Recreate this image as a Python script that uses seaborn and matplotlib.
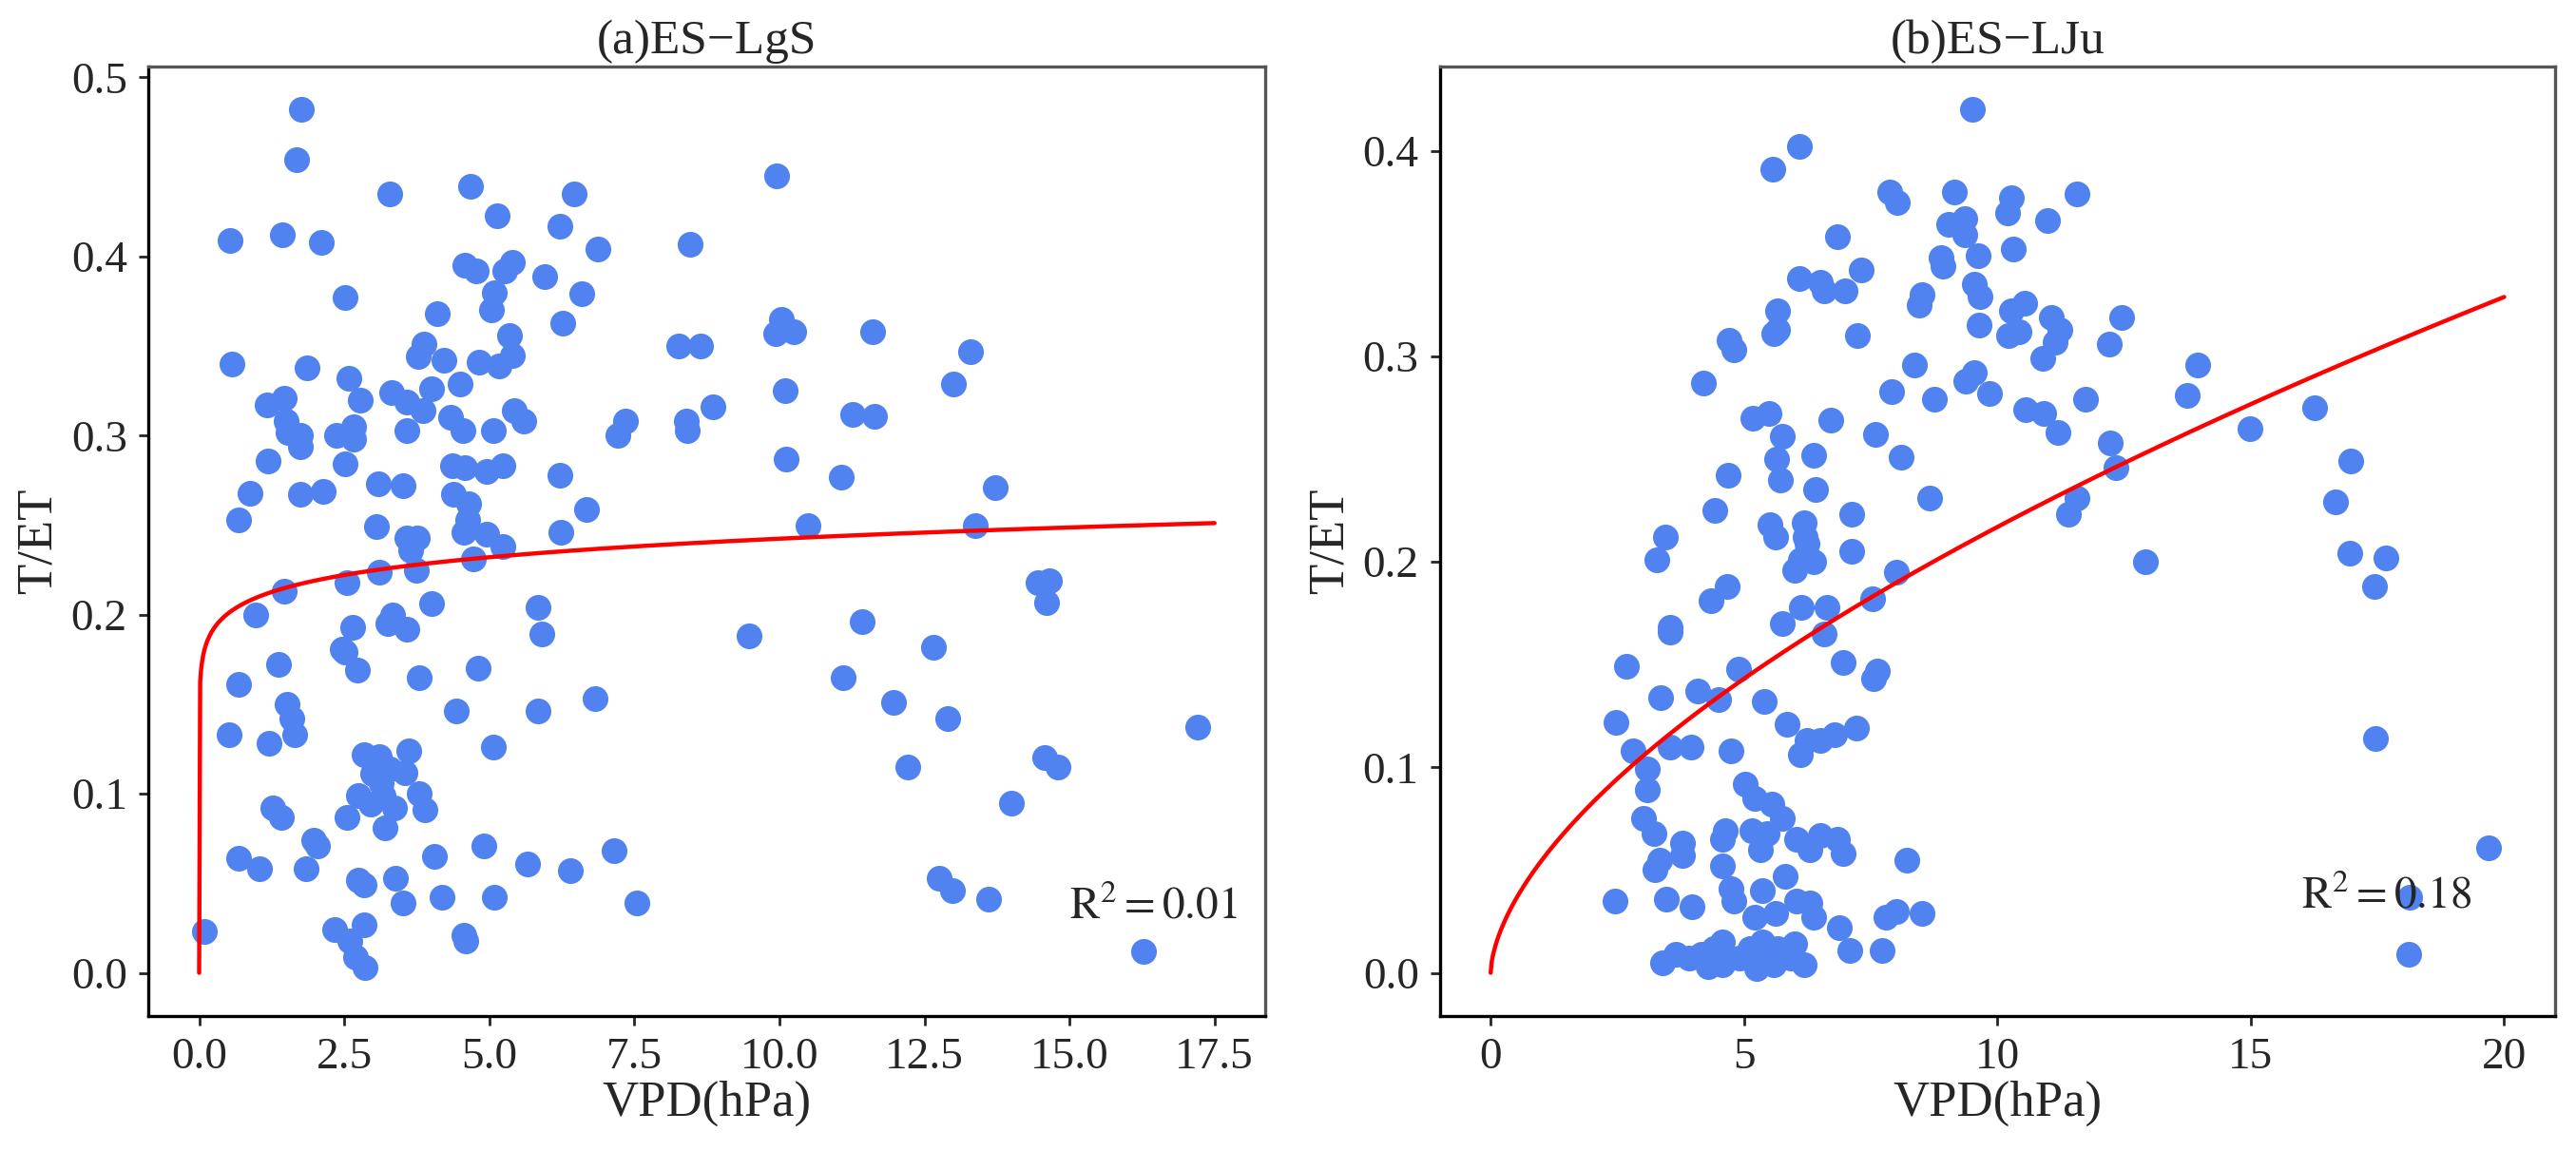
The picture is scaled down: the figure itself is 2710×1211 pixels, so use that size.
import numpy as np
import pandas as pd
import matplotlib
matplotlib.use('Agg')
import matplotlib.pyplot as plt
import seaborn as sns

# Panel (a) ES-LgS: VPD vs T/ET
vpd_lgs = [1.76, 1.68, 3.28, 4.68, 5.14, 6.47, 6.22, 0.54, 1.44, 2.11, 6.88, 4.58, 4.78, 5.27, 5.40, 5.96,
           2.52, 5.08, 5.04, 6.59, 4.11, 6.27, 3.88, 3.78, 4.22, 5.35, 4.82, 5.17, 5.40, 0.57, 1.86, 2.58,
           4.50, 1.46, 1.17, 2.78, 3.32, 3.58, 3.85, 4.00, 1.50, 1.53, 1.75, 1.74, 2.36, 2.67, 2.66, 3.58,
           4.34, 4.55, 5.07, 5.43, 5.60, 7.34, 7.21, 1.18, 2.52, 4.36, 4.58, 4.95, 5.23, 6.22, 0.87, 1.75,
           2.14, 3.09, 3.52, 4.39, 4.64, 6.68, 0.68, 3.06, 3.58, 3.76, 4.56, 4.96, 5.24, 6.24, 4.73, 3.64,
           4.62,
           9.96, 8.46, 10.03, 9.93, 10.24, 11.61, 8.26, 8.64, 13.29, 13.00, 10.10, 8.40, 8.42, 8.86, 11.26,
           11.64, 10.12, 11.07, 13.72, 10.49, 13.38,
           3.74, 3.11, 2.55, 1.46, 0.97, 4.00, 5.84, 5.91, 3.34, 3.25, 3.58, 2.64, 2.47, 2.52, 2.73, 1.36,
           3.79, 4.80, 0.68, 6.83, 4.43, 5.84, 1.51, 1.60, 1.64, 0.51, 1.21, 5.07, 2.85, 3.10, 3.61, 3.54,
           3.28, 2.99, 3.14, 3.79, 3.89, 2.74, 2.95, 3.17, 3.36, 3.21, 1.27, 1.42, 2.55, 1.97, 2.04, 4.05,
           4.90, 7.15, 0.68, 1.04, 1.84, 5.66, 6.39, 2.74, 2.85, 3.39, 3.52, 4.18, 5.09, 7.54, 0.09, 2.33,
           2.59, 2.85, 2.70, 2.86, 4.56, 4.60,
           14.45, 14.66, 14.61, 11.42, 9.48, 12.66, 11.10, 11.96, 12.90, 17.21, 12.22, 14.57, 14.80, 14.00,
           12.76, 12.98, 13.60, 16.27]
tet_lgs = [0.482, 0.454, 0.435, 0.439, 0.423, 0.435, 0.417, 0.409, 0.412, 0.408, 0.404, 0.395, 0.392, 0.392,
           0.397, 0.389, 0.377, 0.380, 0.370, 0.379, 0.368, 0.363, 0.351, 0.344, 0.342, 0.356, 0.341, 0.339,
           0.345, 0.340, 0.338, 0.332, 0.329, 0.321, 0.317, 0.320, 0.324, 0.319, 0.314, 0.326, 0.308, 0.302,
           0.300, 0.294, 0.300, 0.305, 0.298, 0.303, 0.310, 0.303, 0.303, 0.314, 0.308, 0.308, 0.300, 0.286,
           0.284, 0.283, 0.282, 0.280, 0.283, 0.278, 0.268, 0.267, 0.269, 0.273, 0.272, 0.267, 0.262, 0.259,
           0.253, 0.249, 0.243, 0.243, 0.246, 0.245, 0.238, 0.246, 0.231, 0.236,
           0.253,
           0.445, 0.407, 0.365, 0.357, 0.358, 0.358, 0.350, 0.350, 0.347, 0.329, 0.325, 0.308, 0.303, 0.316,
           0.312, 0.311, 0.287, 0.277, 0.271, 0.250, 0.250,
           0.225, 0.224, 0.218, 0.213, 0.200, 0.206, 0.204, 0.189, 0.200, 0.195, 0.192, 0.193, 0.181, 0.179,
           0.169, 0.172, 0.165, 0.170, 0.161, 0.153, 0.146, 0.146, 0.150, 0.142, 0.133, 0.133, 0.128, 0.126,
           0.122, 0.121, 0.124, 0.112, 0.114, 0.111, 0.106, 0.100, 0.091, 0.099, 0.094, 0.099, 0.092, 0.081,
           0.092, 0.087, 0.087, 0.074, 0.071, 0.065, 0.071, 0.068, 0.064, 0.058, 0.058, 0.061, 0.057, 0.052,
           0.049, 0.053, 0.039, 0.042, 0.042, 0.039, 0.023, 0.024, 0.018, 0.027, 0.009, 0.003, 0.021, 0.018,
           0.218, 0.219, 0.207, 0.196, 0.188, 0.182, 0.165, 0.151, 0.142, 0.137, 0.115, 0.120, 0.115, 0.095,
           0.053, 0.046, 0.041, 0.012]

# Panel (b) ES-LJu
vpd_lju = [6.09, 5.57, 7.88, 8.03, 6.84, 8.88, 8.92, 6.10, 6.50, 6.58, 7.00, 7.31, 5.67, 5.67, 5.58, 8.51,
           8.46, 7.24, 4.70, 4.79, 8.36, 4.20, 7.92, 8.76, 5.17, 5.50, 6.71, 5.75, 7.59, 5.65, 6.38, 8.09,
           4.69, 5.71, 6.42, 8.67, 4.43, 7.13, 5.52, 5.62, 6.19, 6.21, 3.44, 3.28, 7.13,
           6.25, 6.00, 6.11, 6.38, 8.00, 4.66, 4.35, 7.53, 6.13, 6.64, 5.75, 3.55, 3.55, 6.58, 2.68, 6.96,
           4.90, 7.63, 7.55, 4.09, 3.35, 4.50, 5.40, 2.47, 5.85, 7.21, 6.79, 6.50, 6.25, 6.11, 2.81, 3.55,
           3.95, 4.75, 3.09, 3.09, 5.02, 5.21, 5.54, 5.75, 3.02, 3.23, 4.62, 4.58, 5.16, 5.46, 6.04, 6.50,
           6.84, 6.96, 6.29, 5.33, 3.79, 3.79, 8.21, 3.33, 3.24, 4.58, 5.82, 4.75, 4.79, 5.36, 2.45, 3.47,
           3.98, 5.21, 5.62, 6.04, 6.29, 6.38, 6.88, 7.80, 8.00, 8.51, 7.09, 7.73, 3.39, 3.66, 3.91, 4.16,
           4.29, 4.41, 4.58, 4.62, 4.58, 4.91, 5.12, 5.25, 5.37, 5.46, 5.58, 5.67, 6.00, 5.92, 6.19,
           9.51, 9.15, 10.28, 11.57, 10.20, 9.35, 9.04, 9.35, 10.99, 9.62, 10.31, 9.55, 9.66, 10.28, 10.54,
           11.06, 11.23, 12.46, 9.64, 10.21, 10.42, 11.14, 10.89, 12.20, 9.37, 9.55, 9.85, 10.55, 10.91,
           11.20, 11.74, 13.96, 13.75, 16.25, 14.98, 12.23, 12.33, 11.57, 11.40, 16.97, 16.68, 16.95, 17.67,
           12.92,
           17.44, 17.46, 19.69, 18.14, 18.12]
tet_lju = [0.402, 0.391, 0.380, 0.375, 0.358, 0.348, 0.344, 0.338, 0.336, 0.332, 0.332, 0.342, 0.322, 0.313,
           0.311, 0.330, 0.325, 0.310, 0.308, 0.303, 0.296, 0.287, 0.283, 0.279, 0.270, 0.272, 0.269, 0.261,
           0.262, 0.250, 0.252, 0.251, 0.242, 0.240, 0.235, 0.231, 0.225, 0.223, 0.218, 0.212, 0.219, 0.212,
           0.212, 0.201, 0.205,
           0.209, 0.196, 0.201, 0.200, 0.195, 0.188, 0.181, 0.182, 0.178, 0.178, 0.170, 0.168, 0.166, 0.165,
           0.149, 0.151, 0.148, 0.147, 0.143, 0.137, 0.134, 0.133, 0.132, 0.122, 0.121, 0.119, 0.116, 0.113,
           0.113, 0.106, 0.108, 0.110, 0.110, 0.108, 0.099, 0.089, 0.092, 0.085, 0.082, 0.075, 0.075, 0.068,
           0.069, 0.065, 0.069, 0.068, 0.065, 0.067, 0.065, 0.058, 0.060, 0.060, 0.063, 0.057, 0.055, 0.055,
           0.050, 0.052, 0.047, 0.041, 0.035, 0.040, 0.035, 0.036, 0.032, 0.027, 0.029, 0.035, 0.034, 0.027,
           0.022, 0.027, 0.030, 0.029, 0.011, 0.011, 0.005, 0.009, 0.007, 0.009, 0.003, 0.012, 0.015, 0.008,
           0.004, 0.007, 0.012, 0.002, 0.015, 0.008, 0.004, 0.012, 0.014, 0.007, 0.004,
           0.420, 0.380, 0.377, 0.379, 0.370, 0.367, 0.364, 0.359, 0.366, 0.349, 0.352, 0.335, 0.329, 0.322,
           0.326, 0.319, 0.313, 0.319, 0.315, 0.310, 0.312, 0.307, 0.299, 0.306, 0.288, 0.292, 0.282, 0.274,
           0.272, 0.263, 0.279, 0.296, 0.281, 0.275, 0.265, 0.258, 0.246, 0.231, 0.223, 0.249, 0.229, 0.204,
           0.202, 0.200,
           0.188, 0.114, 0.061, 0.037, 0.009]

# fitted power curves y = a * x^b
titles = ['(a)ES\u2212LgS', '(b)ES\u2212LJu']
fit_a = [0.2097, 0.0545]
fit_b = [0.063, 0.60]
fit_xmax = [17.5, 20.0]
r2_labels = ['0.01', '0.18']
r2_pos = [(15.0, 0.037), (16.0, 0.037)]

sns.set_theme(style='ticks')
plt.rcParams['font.family'] = ['Liberation Serif', 'DejaVu Serif']
plt.rcParams['mathtext.fontset'] = 'stix'

fig = plt.figure(figsize=(13.55, 6.055), dpi=200)
ax1 = fig.add_axes([0.0576, 0.1173, 0.4336, 0.8249])
ax2 = fig.add_axes([0.5590, 0.1173, 0.4328, 0.8249])

datasets = [(vpd_lgs, tet_lgs), (vpd_lju, tet_lju)]
for i, ax in enumerate([ax1, ax2]):
    df = pd.DataFrame({'VPD': datasets[i][0], 'TET': datasets[i][1]})
    sns.scatterplot(data=df, x='VPD', y='TET', ax=ax, color='#5082F0', s=95, linewidth=0, alpha=1)

    xs = np.linspace(0, fit_xmax[i], 1000)
    fit_df = pd.DataFrame({'x': xs, 'y': fit_a[i] * xs ** fit_b[i]})
    sns.lineplot(data=fit_df, x='x', y='y', ax=ax, color='red', linewidth=1.6, sort=False, estimator=None)

    ax.set_title(titles[i], fontsize=18.5, pad=5)
    ax.set_xlabel('VPD(hPa)', fontsize=19)
    ax.set_ylabel('T/ET', fontsize=19)
    ax.xaxis.set_label_coords(0.5, -0.068)
    ax.yaxis.set_label_coords(-0.078, 0.5)
    ax.tick_params(labelsize=17, width=1.0, length=3.5, pad=4.5)
    ax.text(r2_pos[i][0], r2_pos[i][1], r'$\mathrm{R^2=%s}$' % r2_labels[i],
            fontsize=17, ha='left', va='center')
    for side in ['left', 'bottom']:
        ax.spines[side].set_color('black')
        ax.spines[side].set_linewidth(1.2)
    for side in ['top', 'right']:
        ax.spines[side].set_visible(True)
        ax.spines[side].set_color('#555555')
        ax.spines[side].set_linewidth(1.2)

fig.savefig('out.png', dpi=200)
